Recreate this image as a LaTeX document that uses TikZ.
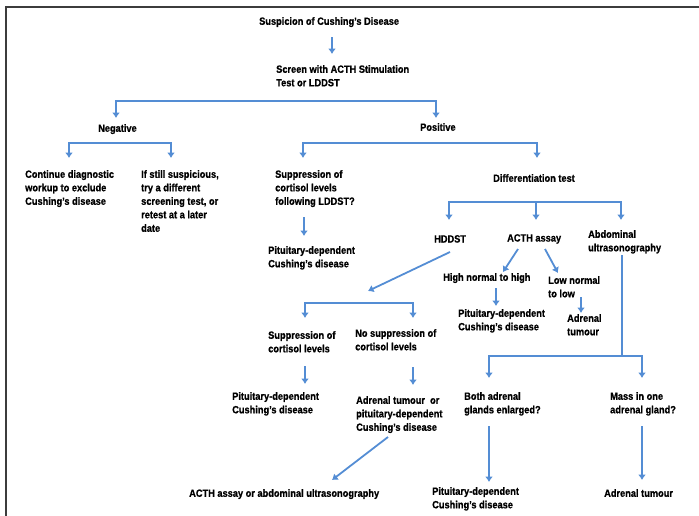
\documentclass[tikz,border=0pt]{standalone}
\usepackage{fontspec}
\setmainfont[FakeStretch=0.88, BoldFeatures={FakeBold=0.8}]{Liberation Sans}
\usetikzlibrary{arrows.meta}
\definecolor{arrblue}{RGB}{84,141,212}
\definecolor{framegray}{RGB}{60,60,60}
\tikzset{
  txt/.style={anchor=north west, inner sep=0pt, align=left,
    font=\fontsize{10.5}{13.5}\selectfont\bfseries},
  arr/.style={draw=arrblue, line width=1.8pt, -{Latex[length=5.5pt,width=8pt]}},
  arrb/.style={draw=arrblue, line width=1.8pt, {Latex[length=5.5pt,width=8pt]}-{Latex[length=5.5pt,width=8pt]}},
  ln/.style={draw=arrblue, line width=1.8pt},
  frame/.style={draw=framegray, line width=1.5pt}
}
\begin{document}
\begin{tikzpicture}[x=1pt,y=-1pt]
\useasboundingbox (0,0) rectangle (699,515);
% frame
\coordinate (fbl) at (6,516);
\coordinate (ftl) at (6,7);
\coordinate (ftr) at (700,7);
\draw[frame] (fbl) -- (ftl) -- (ftr);

% text nodes
\node[txt] (susp) at (259,17) {Suspicion of Cushing's Disease};
\node[txt] (screen) at (276,65) {Screen with ACTH Stimulation\\Test or LDDST};
\node[txt] (neg) at (98,124) {Negative};
\node[txt] (pos) at (420,123) {Positive};
\node[txt] (cont) at (25,170) {Continue diagnostic\\workup to exclude\\Cushing's disease};
\node[txt] (still) at (141,170) {If still suspicious,\\try a different\\screening test, or\\retest at a later\\date};
\node[txt] (suppL) at (275,170) {Suppression of\\cortisol levels\\following LDDST?};
\node[txt] (pit1) at (268,246) {Pituitary-dependent\\Cushing's disease};
\node[txt] (diff) at (493,174) {Differentiation test};
\node[txt] (hddst) at (434,235) {HDDST};
\node[txt] (acth) at (507,234) {ACTH assay};
\node[txt] (abd) at (588,230) {Abdominal\\ultrasonography};
\node[txt] (high) at (443,273) {High normal to high};
\node[txt] (pit2) at (458,309) {Pituitary-dependent\\Cushing's disease};
\node[txt] (low) at (548,276) {Low normal\\to low};
\node[txt] (adr1) at (567,314) {Adrenal\\tumour};
\node[txt] (supp2) at (268,331) {Suppression of\\cortisol levels};
\node[txt] (nosupp) at (355,329) {No suppression of\\cortisol levels};
\node[txt] (pit3) at (232,392) {Pituitary-dependent\\Cushing's disease};
\node[txt] (adrpit) at (356,396) {Adrenal tumour~ or\\pituitary-dependent\\Cushing's disease};
\node[txt] (acthabd) at (189,489) {ACTH assay or abdominal ultrasonography};
\node[txt] (both) at (464,392) {Both adrenal\\glands enlarged?};
\node[txt] (mass) at (610,392) {Mass in one\\adrenal gland?};
\node[txt] (pit4) at (432,487) {Pituitary-dependent\\Cushing's disease};
\node[txt] (adr2) at (604,489) {Adrenal tumour};

% connector end points
\coordinate (a1s) at (332,37);  \coordinate (a1e) at (332,54);
\coordinate (b1l) at (116,118); \coordinate (b1r) at (436,118); \coordinate (b1y) at (0,101);
\coordinate (b2l) at (69,158);  \coordinate (b2r) at (171,158); \coordinate (b2y) at (0,143);
\coordinate (b3l) at (303,158); \coordinate (b3r) at (537,158);
\coordinate (a2s) at (304,217); \coordinate (a2e) at (304,236);
\coordinate (b4l) at (449,220); \coordinate (b4m) at (536,220); \coordinate (b4r) at (621,220); \coordinate (b4y) at (0,202);
\coordinate (d1s) at (450,252); \coordinate (d1e) at (368,291);
\coordinate (b5l) at (305,318); \coordinate (b5r) at (413,318); \coordinate (b5y) at (0,303);
\coordinate (a3s) at (305,366); \coordinate (a3e) at (305,384);
\coordinate (a4s) at (413,367); \coordinate (a4e) at (413,385);
\coordinate (d2s) at (388,437); \coordinate (d2e) at (332,480);
\coordinate (d3s) at (518,249); \coordinate (d3e) at (503,272);
\coordinate (d4s) at (545,249); \coordinate (d4e) at (558,273);
\coordinate (a5s) at (496,288); \coordinate (a5e) at (496,306);
\coordinate (a6s) at (581,297); \coordinate (a6e) at (581,313);
\coordinate (v1s) at (622,255); \coordinate (b6y) at (0,356);
\coordinate (b6l) at (489,378); \coordinate (b6r) at (642,378);
\coordinate (a7s) at (489,426); \coordinate (a7e) at (489,482);
\coordinate (a8s) at (642,426); \coordinate (a8e) at (642,480);

% connectors
\draw[arr] (a1s) -- (a1e);
\draw[arrb] (b1l) -- (b1l|-b1y) -- (b1r|-b1y) -- (b1r);
\draw[arrb] (b2l) -- (b2l|-b2y) -- (b2r|-b2y) -- (b2r);
\draw[arrb] (b3l) -- (b3l|-b2y) -- (b3r|-b2y) -- (b3r);
\draw[arr] (a2s) -- (a2e);
\draw[arrb] (b4l) -- (b4l|-b4y) -- (b4r|-b4y) -- (b4r);
\draw[arr] (b4m|-b4y) -- (b4m);
\draw[arr] (d1s) -- (d1e);
\draw[arrb] (b5l) -- (b5l|-b5y) -- (b5r|-b5y) -- (b5r);
\draw[arr] (a3s) -- (a3e);
\draw[arr] (a4s) -- (a4e);
\draw[arr] (d2s) -- (d2e);
\draw[arr] (d3s) -- (d3e);
\draw[arr] (d4s) -- (d4e);
\draw[arr] (a5s) -- (a5e);
\draw[arr] (a6s) -- (a6e);
\draw[ln] (v1s) -- (v1s|-b6y);
\draw[arrb] (b6l) -- (b6l|-b6y) -- (b6r|-b6y) -- (b6r);
\draw[arr] (a7s) -- (a7e);
\draw[arr] (a8s) -- (a8e);
\end{tikzpicture}
\end{document}
